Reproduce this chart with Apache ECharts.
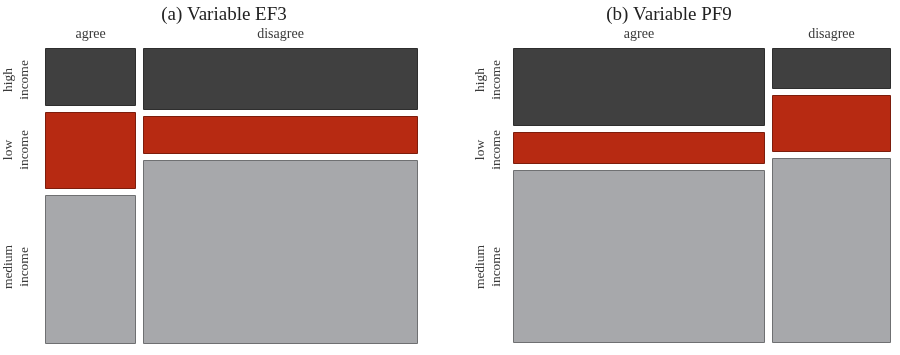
<!DOCTYPE html>
<html>
<head>
<meta charset="utf-8">
<script src="https://cdn.jsdelivr.net/npm/echarts@6/dist/echarts.min.js"></script>
<style>html,body{margin:0;padding:0;background:#fff}#c{width:900px;height:355px}</style>
</head>
<body>
<div id="c"></div>
<script>
// ---- data ----
const titles = ['(a) Variable EF3', '(b) Variable PF9'];
const columns = ['agree', 'disagree'];
const rows = ['high\nincome', 'low\nincome', 'medium\nincome'];
// column shares (widths)
const colShareA = [0.249, 0.751];
const colShareB = [0.679, 0.321];
// row shares inside each column (heights), order: high, low, medium
const rowShareA_agree = [0.204, 0.271, 0.525];
const rowShareA_disagree = [0.220, 0.133, 0.647];
const rowShareB_agree = [0.275, 0.114, 0.611];
const rowShareB_disagree = [0.144, 0.202, 0.654];

const fills = ['#404040', '#b72a12', '#a7a8ab'];
const strokes = ['#2e2e2e', '#7d1d0c', '#6f7072'];
const GX = 0.019, GY = 0.021;

function buildCells(colShare, rowShares) {
  const out = [];
  let cx = 0;
  colShare.forEach((w, j) => {
    let cy = 0;
    rowShares[j].forEach((h, i) => {
      out.push([j, i, cx + j * GX, cx + w + j * GX, cy + i * GY, cy + h + i * GY]);
      cy += h;
    });
    cx += w;
  });
  return out;
}
function buildColLabels(colShare) {
  const out = [];
  let cx = 0;
  colShare.forEach((w, j) => { out.push([j, cx + w / 2 + j * GX]); cx += w; });
  return out;
}

const cellsA = buildCells(colShareA, [rowShareA_agree, rowShareA_disagree]);
const cellsB = buildCells(colShareB, [rowShareB_agree, rowShareB_disagree]);

const serif = '"Liberation Serif", "DejaVu Serif", serif';

function renderCell(params, api) {
  const i = api.value(1);
  const p0 = api.coord([api.value(2), api.value(4)]);
  const p1 = api.coord([api.value(3), api.value(5)]);
  const x = Math.min(p0[0], p1[0]), y = Math.min(p0[1], p1[1]);
  return {
    type: 'rect',
    shape: { x: Math.round(x) + 0.5, y: Math.round(y) + 0.5, width: Math.round(Math.abs(p1[0] - p0[0])) - 1, height: Math.round(Math.abs(p1[1] - p0[1])) - 1 },
    style: { fill: fills[i], stroke: strokes[i], lineWidth: 1 }
  };
}
function renderColLabel(params, api) {
  const j = api.value(0);
  const p = api.coord([api.value(1), 0]);
  return {
    type: 'text',
    x: p[0], y: p[1] - 14,
    style: { text: columns[j], fill: '#3a3a3a', font: '14px ' + serif, align: 'center', verticalAlign: 'middle' }
  };
}

const rowLabelY = [80, 150, 267];
const graphic = [];
[[224, 16], [669, 488]].forEach((pos, k) => {
  graphic.push({ type: 'text', x: pos[0], y: 15, style: { text: titles[k], fill: '#222', font: '19px ' + serif, align: 'center', verticalAlign: 'middle' } });
  rows.forEach((r, i) => {
    graphic.push({ type: 'text', x: pos[1], y: rowLabelY[i], rotation: Math.PI / 2,
      style: { text: r, fill: '#3a3a3a', font: '13.5px ' + serif, align: 'center', verticalAlign: 'middle', lineHeight: 16 } });
  });
});

const hiddenAxis = { show: false };
const option = {
  animation: false,
  backgroundColor: '#fff',
  grid: [
    { left: 45, top: 48, width: 373, height: 296 },
    { left: 513, top: 48, width: 378, height: 295 }
  ],
  xAxis: [
    { type: 'value', gridIndex: 0, min: 0, max: 1 + GX, ...hiddenAxis },
    { type: 'value', gridIndex: 1, min: 0, max: 1 + GX, ...hiddenAxis }
  ],
  yAxis: [
    { type: 'value', gridIndex: 0, min: 0, max: 1 + 2 * GY, inverse: true, ...hiddenAxis },
    { type: 'value', gridIndex: 1, min: 0, max: 1 + 2 * GY, inverse: true, ...hiddenAxis }
  ],
  series: [
    { type: 'custom', xAxisIndex: 0, yAxisIndex: 0, data: cellsA, renderItem: renderCell, silent: true },
    { type: 'custom', xAxisIndex: 1, yAxisIndex: 1, data: cellsB, renderItem: renderCell, silent: true },
    { type: 'custom', xAxisIndex: 0, yAxisIndex: 0, data: buildColLabels(colShareA), renderItem: renderColLabel, silent: true },
    { type: 'custom', xAxisIndex: 1, yAxisIndex: 1, data: buildColLabels(colShareB), renderItem: renderColLabel, silent: true }
  ],
  graphic: graphic
};
const chart = echarts.init(document.getElementById('c'), null, { renderer: 'canvas' });
chart.setOption(option);
</script>
</body>
</html>
